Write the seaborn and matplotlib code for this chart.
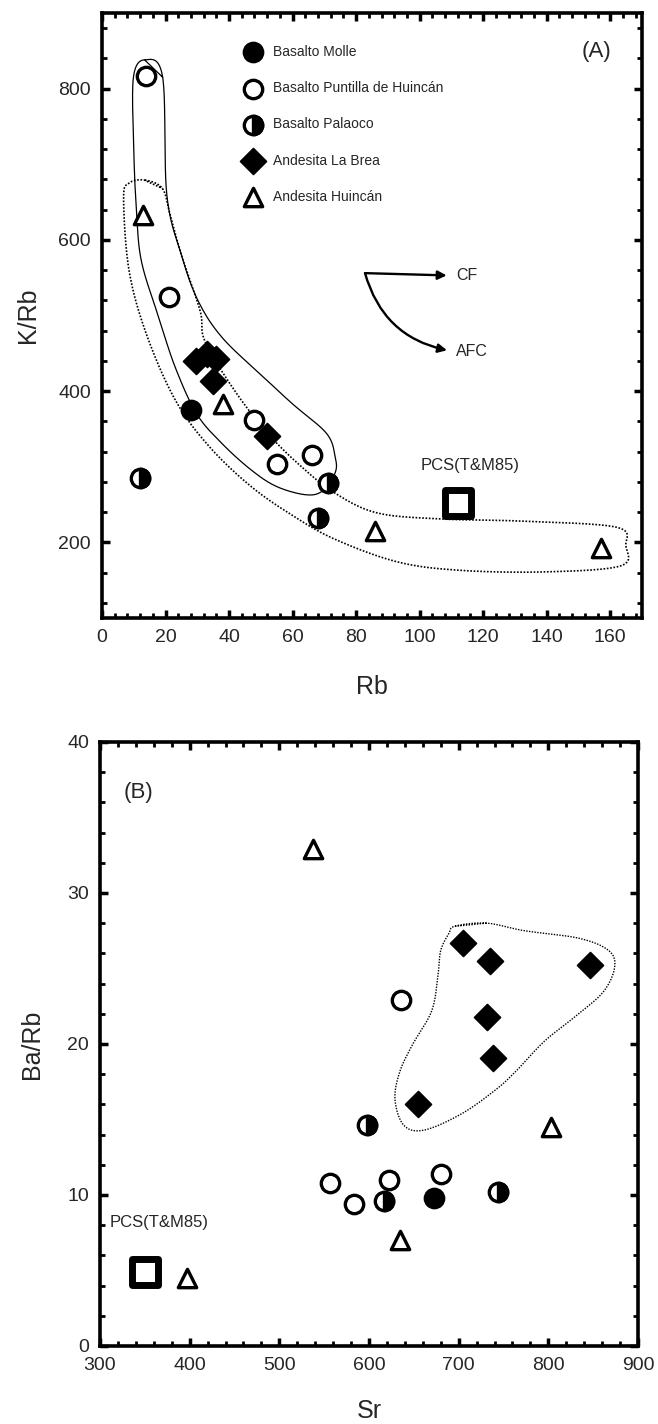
import numpy as np
import pandas as pd
import matplotlib
matplotlib.use("Agg")
import matplotlib.pyplot as plt
from matplotlib.markers import MarkerStyle
from matplotlib.ticker import MultipleLocator
import seaborn as sns

sns.set_style("white")
plt.rcParams['font.family'] = ['Liberation Sans', 'DejaVu Sans']

# ---- panel A: Rb vs K/Rb ----
molle_rb = [28]
molle_krb = [375]
puntilla_rb = [14, 21, 48, 55, 66]
puntilla_krb = [817, 525, 362, 304, 316]
palaoco_rb = [12, 71, 68]
palaoco_krb = [285, 278, 232]
brea_rb = [29.5, 33, 36, 35, 52]
brea_krb = [440, 449, 443, 414, 341]
huincan_rb = [13, 38, 86, 157]
huincan_krb = [633, 383, 215, 193]
pcs_rb = [112]
pcs_krb = [252]

# field outlines in panel A (data coords)
solid_rb = [13.6, 19.1, 20.4, 25, 30.3, 38, 51, 60, 70.7, 73.4, 73.4, 69.4, 64.1,
            54.9, 46.9, 37.7, 29.8, 23.1, 17.9, 12.5, 10.9, 10, 9.9]
solid_krb = [838, 815, 660, 580, 519, 470, 418, 383, 344, 313, 292, 268, 263,
             274, 296, 331, 370, 431, 497, 570, 634, 720, 815]
dotted_rb = [13.5, 19, 21.4, 25, 30.9, 32.4, 41.7, 52.2, 62.8, 73.4, 86.6, 106.4, 132.9,
             162, 164.9, 163.3, 139.5, 113, 93.2, 73.4, 60.2, 46.9, 33.7, 23.1, 14, 8.5, 6.8, 8.5]
dotted_krb = [679, 668, 634, 580, 506, 466, 401, 344, 300, 265, 239, 231, 228,
              220, 196, 169, 161, 163, 174, 204, 235, 274, 327, 388, 475, 560, 655, 675]

# ---- panel B: Sr vs Ba/Rb ----
molle_sr = [673]
molle_barb = [9.8]
puntilla_sr = [636, 557, 583, 622, 680]
puntilla_barb = [22.9, 10.8, 9.4, 11.0, 11.4]
palaoco_sr = [598, 617, 744]
palaoco_barb = [14.6, 9.6, 10.2]
brea_sr = [705, 735, 846, 732, 738, 655]
brea_barb = [26.7, 25.5, 25.2, 21.8, 19.1, 16.0]
huincan_sr = [538, 803, 635, 397]
huincan_barb = [32.9, 14.5, 7.0, 4.5]
pcs_sr = [350]
pcs_barb = [4.9]

brea_field_sr = [696, 731, 773, 834, 867, 874, 862, 834, 796, 764, 742, 704, 662,
                 639, 629, 634, 648, 670, 677, 680, 689]
brea_field_barb = [27.8, 28.0, 27.5, 27.0, 26.2, 25.1, 23.5, 22.0, 20.2, 18.2, 17.0, 15.4, 14.3,
                   14.6, 16.3, 18.1, 19.9, 22.2, 24.6, 26.2, 27.3]

labels = ["Basalto Molle", "Basalto Puntilla de Huincán", "Basalto Palaoco",
          "Andesita La Brea", "Andesita Huincán"]

S = 175
LW = 2.4


def closed_curve(xs, ys, n=24):
    p = np.column_stack([xs, ys]).astype(float)
    m = len(p)
    out = []
    t = np.linspace(0, 1, n, endpoint=False)[:, None]
    for i in range(m):
        p0, p1, p2, p3 = p[i - 1], p[i], p[(i + 1) % m], p[(i + 2) % m]
        seg = 0.5 * ((2 * p1) + (-p0 + p2) * t + (2 * p0 - 5 * p1 + 4 * p2 - p3) * t ** 2
                     + (-p0 + 3 * p1 - 3 * p2 + p3) * t ** 3)
        out.append(seg)
    out = np.vstack(out + [p[1:2]])
    return out[:, 0], out[:, 1]


def draw_groups(ax, data):
    handles = []
    (mx, my), (px, py), (hx, hy), (bx, by), (tx, ty), (qx, qy) = data
    sns.scatterplot(x=mx, y=my, ax=ax, marker='o', s=S, color='black',
                    edgecolor='black', linewidth=LW, zorder=5)
    handles.append(ax.collections[-1])
    sns.scatterplot(x=px, y=py, ax=ax, marker='o', s=S, facecolor='white',
                    edgecolor='black', linewidth=LW, zorder=5)
    handles.append(ax.collections[-1])
    sns.scatterplot(x=hx, y=hy, ax=ax, marker='o', s=S, facecolor='white',
                    edgecolor='black', linewidth=LW, zorder=5)
    h1 = ax.collections[-1]
    sns.scatterplot(x=hx, y=hy, ax=ax, marker=MarkerStyle('o', fillstyle='right'), s=S,
                    color='black', edgecolor='black', linewidth=LW, zorder=6)
    handles.append((h1, ax.collections[-1]))
    sns.scatterplot(x=bx, y=by, ax=ax, marker='D', s=S, color='black',
                    edgecolor='black', linewidth=LW * 0.5, zorder=5)
    handles.append(ax.collections[-1])
    sns.scatterplot(x=tx, y=ty, ax=ax, marker='^', s=S, facecolor='white',
                    edgecolor='black', linewidth=LW, zorder=5)
    handles.append(ax.collections[-1])
    sns.scatterplot(x=qx, y=qy, ax=ax, marker='s', s=330, facecolor='white',
                    edgecolor='black', linewidth=5, zorder=5)
    return handles


def style_axes(ax, xmaj, xmin, ymaj, ymin):
    ax.xaxis.set_major_locator(MultipleLocator(xmaj))
    ax.xaxis.set_minor_locator(MultipleLocator(xmin))
    ax.yaxis.set_major_locator(MultipleLocator(ymaj))
    ax.yaxis.set_minor_locator(MultipleLocator(ymin))
    ax.tick_params(which='both', direction='in', top=True, right=True,
                   bottom=True, left=True, color='black')
    ax.tick_params(which='major', length=6, width=2.5, labelsize=14, pad=8)
    ax.tick_params(which='minor', length=3.5, width=2)
    for sp in ax.spines.values():
        sp.set_linewidth(2.6)
        sp.set_color('black')
    ax.grid(False)


fig = plt.figure(figsize=(6.58, 14.24), dpi=100)

# ---------- (A) ----------
ax1 = fig.add_axes([0.155, 0.566, 0.8207, 0.4249])
cx, cy = closed_curve(solid_rb, solid_krb)
ax1.plot(cx, cy, color='black', lw=0.9, zorder=2)
cx, cy = closed_curve(dotted_rb, dotted_krb)
ax1.plot(cx, cy, color='black', lw=1.2, ls=(0, (1, 1)), zorder=2)

hA = draw_groups(ax1, [(molle_rb, molle_krb), (puntilla_rb, puntilla_krb),
                       (palaoco_rb, palaoco_krb), (brea_rb, brea_krb),
                       (huincan_rb, huincan_krb), (pcs_rb, pcs_krb)])
ax1.set_xlim(0, 170)
ax1.set_ylim(100, 900)
style_axes(ax1, 20, 4, 200, 40)
ax1.set_xlabel("Rb", fontsize=18)
ax1.set_ylabel("K/Rb", fontsize=18)
ax1.xaxis.set_label_coords(0.5, -0.095)
ax1.yaxis.set_label_coords(-0.115, 0.5)

ax1.legend(hA, labels, loc='upper left', bbox_to_anchor=(0.267, 0.947), frameon=False,
           fontsize=10, handlelength=1.0, handletextpad=0.94, labelspacing=1.6,
           borderpad=0, borderaxespad=0, scatterpoints=1)

ax1.text(0.915, 0.937, "(A)", transform=ax1.transAxes, fontsize=16, ha='center', va='center')
ax1.text(116, 302, "PCS(T&M85)", fontsize=12, ha='center', va='center')

ax1.annotate("", xy=(108.5, 553), xytext=(82.8, 556),
             arrowprops=dict(arrowstyle='-|>', color='black', lw=1.7,
                             mutation_scale=13, shrinkA=0, shrinkB=0))
ax1.annotate("", xy=(108.6, 454), xytext=(82.8, 556),
             arrowprops=dict(arrowstyle='-|>', color='black', lw=1.7, mutation_scale=13,
                             shrinkA=0, shrinkB=0, connectionstyle='arc3,rad=0.3'))
ax1.text(111.5, 553, "CF", fontsize=11.5, ha='left', va='center')
ax1.text(111.5, 453, "AFC", fontsize=11.5, ha='left', va='center')

# ---------- (B) ----------
ax2 = fig.add_axes([0.152, 0.0548, 0.8176, 0.4242])
cx, cy = closed_curve(brea_field_sr, brea_field_barb)
ax2.plot(cx, cy, color='black', lw=1.0, ls=(0, (1, 1)), zorder=2)

draw_groups(ax2, [(molle_sr, molle_barb), (puntilla_sr, puntilla_barb),
                  (palaoco_sr, palaoco_barb), (brea_sr, brea_barb),
                  (huincan_sr, huincan_barb), (pcs_sr, pcs_barb)])
ax2.set_xlim(300, 900)
ax2.set_ylim(0, 40)
style_axes(ax2, 100, 20, 10, 2)
ax2.set_xlabel("Sr", fontsize=18)
ax2.set_ylabel("Ba/Rb", fontsize=18)
ax2.xaxis.set_label_coords(0.5, -0.088)
ax2.yaxis.set_label_coords(-0.105, 0.5)

ax2.text(0.043, 0.917, "(B)", transform=ax2.transAxes, fontsize=16, ha='left', va='center')
ax2.text(311, 8.15, "PCS(T&M85)", fontsize=12, ha='left', va='center')

fig.savefig("out.png", dpi=100)
